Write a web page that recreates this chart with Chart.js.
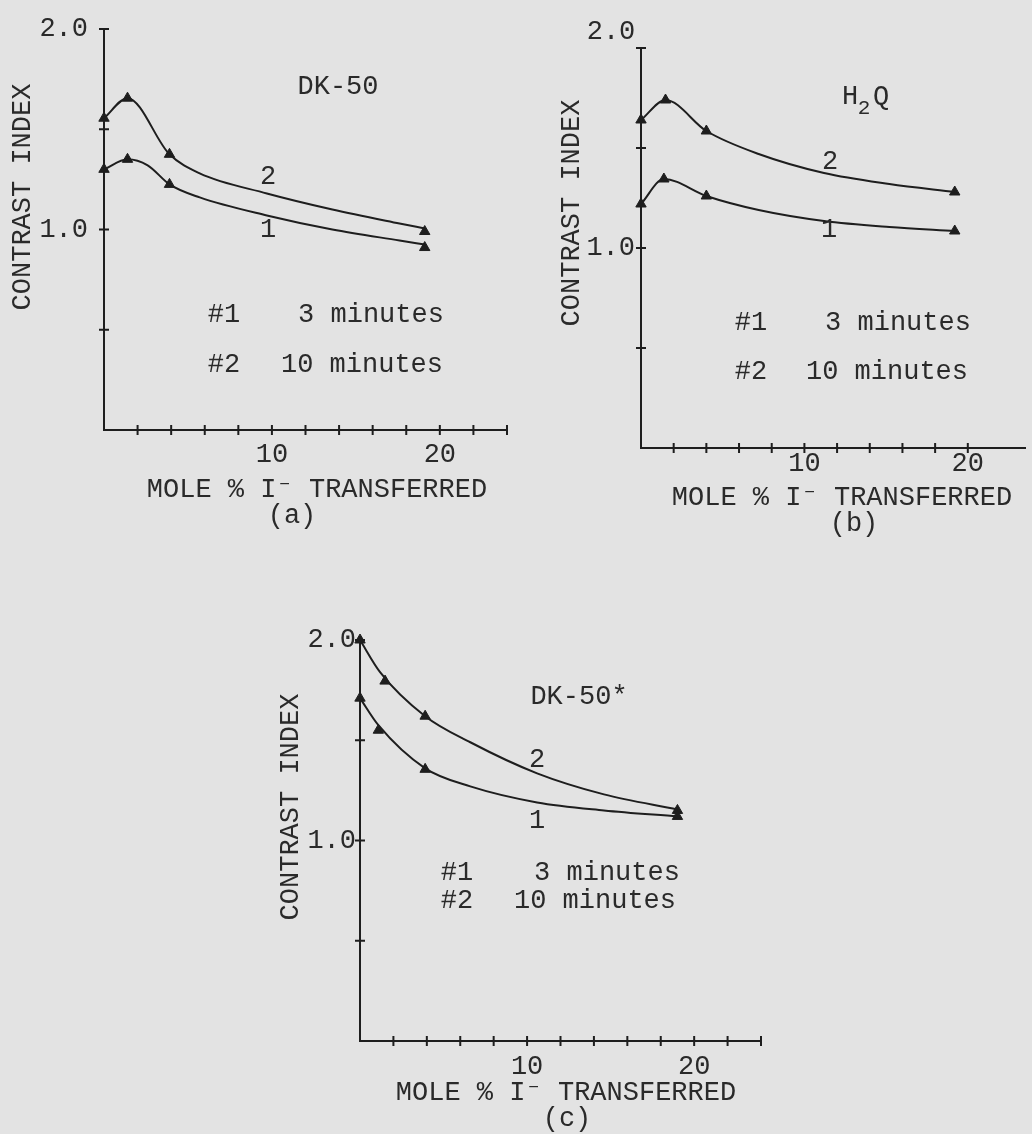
<!DOCTYPE html>
<html>
<head>
<meta charset="utf-8">
<script src="https://cdn.jsdelivr.net/npm/chart.js@4"></script>
<style>
  html, body { margin: 0; padding: 0; }
  body { width: 1032px; height: 1134px; background: #e3e3e3; position: relative; overflow: hidden; }
  canvas { position: absolute; }
</style>
</head>
<body>
<canvas id="pa" width="540" height="545" style="left:0px;top:0px"></canvas>
<canvas id="pb" width="492" height="545" style="left:540px;top:0px"></canvas>
<canvas id="pc" width="520" height="574" style="left:260px;top:560px"></canvas>
<script>
// ---------- data ----------
const xLabeledTicks = [10, 20];
const yLabeledTicks = [1.0, 2.0];

// (a) DK-50
const aMarkX1 = [0, 1.4, 3.9, 19.1];
const aMark1  = [1.30, 1.35, 1.225, 0.91];
const aMarkX2 = [0, 1.4, 3.9, 19.1];
const aMark2  = [1.555, 1.655, 1.375, 0.99];
const aCurveX1 = [0, 1.4, 2.6, 3.9, 5.7, 9.7, 13.6, 17.6, 19.1];
const aCurve1  = [1.30, 1.35, 1.32, 1.225, 1.16, 1.07, 1.0, 0.945, 0.925];
const aCurveX2 = [0, 1.4, 3.9, 5.7, 9.7, 13.6, 17.6, 19.1];
const aCurve2  = [1.555, 1.655, 1.375, 1.28, 1.18, 1.10, 1.03, 1.005];

// (b) H2Q
const bMarkX1 = [0, 1.4, 4.0, 19.2];
const bMark1  = [1.22, 1.345, 1.26, 1.085];
const bMarkX2 = [0, 1.5, 4.0, 19.2];
const bMark2  = [1.64, 1.74, 1.585, 1.28];
const bCurveX1 = [0, 1.4, 4.0, 7.2, 11.2, 15.2, 19.2];
const bCurve1  = [1.22, 1.345, 1.26, 1.19, 1.135, 1.105, 1.085];
const bCurveX2 = [0, 1.5, 4.0, 7.2, 11.2, 15.2, 19.2];
const bCurve2  = [1.64, 1.74, 1.585, 1.47, 1.375, 1.32, 1.28];

// (c) DK-50*
const cMarkX1 = [0, 1.1, 3.9, 19.0];
const cMark1  = [1.71, 1.55, 1.355, 1.12];
const cMarkX2 = [0, 1.5, 3.9, 19.0];
const cMark2  = [2.0, 1.795, 1.62, 1.15];
const cCurveX1 = [0, 1.1, 3.9, 6.6, 10.6, 14.6, 19.0];
const cCurve1  = [1.71, 1.575, 1.36, 1.27, 1.19, 1.15, 1.12];
const cCurveX2 = [0, 1.2, 3.9, 6.6, 10.6, 14.6, 19.0];
const cCurve2  = [2.0, 1.84, 1.62, 1.49, 1.335, 1.23, 1.155];

// ---------- styling ----------
const INK = '#1e1e1e';
const TXT = '#2a2a2a';
const FONT = '"Liberation Mono", "DejaVu Sans Mono", monospace';
const XTITLE = 'MOLE % I\u207B TRANSFERRED';
const YTITLE = 'CONTRAST INDEX';

const pts = (xs, ys) => xs.map((x, i) => ({ x: x, y: ys[i] }));

const decor = {
  id: 'decor',
  afterDraw(chart, args, o) {
    const { ctx, scales: { x, y } } = chart;
    ctx.save();
    ctx.strokeStyle = INK;
    ctx.lineWidth = 2;
    const x0 = x.getPixelForValue(0), y0 = y.getPixelForValue(0);
    ctx.beginPath();
    y.ticks.forEach(t => {
      if (t.value > 0) { const py = y.getPixelForValue(t.value); ctx.moveTo(x0 - 5, py); ctx.lineTo(x0 + 5, py); }
    });
    x.ticks.forEach(t => {
      if (t.value > 0 && t.value % 2 === 0) { const px = x.getPixelForValue(t.value); ctx.moveTo(px, y0 - 5); ctx.lineTo(px, y0 + 5); }
    });
    ctx.stroke();
    ctx.fillStyle = TXT;
    ctx.textBaseline = 'middle';
    ctx.textAlign = 'center';
    o.texts.forEach(t => {
      ctx.save();
      ctx.font = (t.size || 27) + 'px ' + FONT;
      ctx.translate(t.x - o.ox, t.y - o.oy);
      if (t.rot) ctx.rotate(t.rot);
      ctx.fillText(t.s, 0, 0);
      ctx.restore();
    });
    ctx.restore();
  }
};

function panel(id, cfg) {
  const lineDs = (xs, ys) => ({
    type: 'scatter', data: pts(xs, ys), showLine: true, borderColor: INK, borderWidth: 2,
    pointRadius: 0, cubicInterpolationMode: 'monotone', clip: false, fill: false
  });
  const markDs = (xs, ys) => ({
    type: 'scatter', data: pts(xs, ys), showLine: false, pointStyle: 'triangle',
    pointRadius: 6, pointBackgroundColor: INK, pointBorderColor: INK, pointBorderWidth: 1, clip: false
  });
  const yLabs = cfg.yLabels || yLabeledTicks;
  new Chart(document.getElementById(id), {
    type: 'scatter',
    data: {
      datasets: [
        lineDs(cfg.curveX1, cfg.curve1),
        lineDs(cfg.curveX2, cfg.curve2),
        markDs(cfg.markX1, cfg.mark1),
        markDs(cfg.markX2, cfg.mark2)
      ]
    },
    options: {
      responsive: false,
      animation: false,
      devicePixelRatio: 1,
      layout: { padding: { left: 0, top: cfg.padTop, right: cfg.padRight, bottom: 0 } },
      plugins: {
        legend: { display: false },
        tooltip: { enabled: false },
        decor: { texts: cfg.texts, ox: cfg.ox, oy: cfg.oy }
      },
      scales: {
        x: {
          type: 'linear', min: 0, max: cfg.xMax,
          grid: { display: true, drawOnChartArea: false, drawTicks: false },
          border: { display: true, color: INK, width: 2 },
          ticks: {
            stepSize: 2, autoSkip: false, maxRotation: 0, padding: cfg.xTickPad,
            color: TXT, font: { family: FONT, size: 27 },
            callback: v => xLabeledTicks.includes(v) ? String(v) : ''
          },
          afterFit: s => { s.height = cfg.xH; s.paddingLeft = 0; s.paddingRight = 0; }
        },
        y: {
          type: 'linear', min: 0, max: 2,
          grid: { display: true, drawOnChartArea: false, drawTicks: false },
          border: { display: true, color: INK, width: 2 },
          ticks: {
            stepSize: 0.5, autoSkip: false, padding: cfg.yTickPad,
            color: TXT, font: { family: FONT, size: 27 },
            callback: v => yLabs.includes(v) ? v.toFixed(1) : ''
          },
          afterFit: s => { s.width = cfg.yW; s.paddingTop = 0; s.paddingBottom = 0; }
        }
      }
    },
    plugins: [decor]
  });
}

panel('pa', {
  markX1: aMarkX1, mark1: aMark1, markX2: aMarkX2, mark2: aMark2,
  curveX1: aCurveX1, curve1: aCurve1, curveX2: aCurveX2, curve2: aCurve2,
  xMax: 24, padTop: 29, padRight: 33, xH: 115, yW: 104, xTickPad: 9, yTickPad: 16,
  ox: 0, oy: 0,
  texts: [
    { s: 'DK-50', x: 338, y: 87 },
    { s: '2', x: 268, y: 177 },
    { s: '1', x: 268, y: 230 },
    { s: '#1', x: 224, y: 315 },
    { s: '3 minutes', x: 371, y: 315 },
    { s: '#2', x: 224, y: 365 },
    { s: '10 minutes', x: 362, y: 365 },
    { s: XTITLE, x: 317, y: 490 },
    { s: '(a)', x: 292, y: 516 },
    { s: YTITLE, x: 23, y: 197, rot: -Math.PI / 2 }
  ]
});

panel('pb', {
  markX1: bMarkX1, mark1: bMark1, markX2: bMarkX2, mark2: bMark2,
  curveX1: bCurveX1, curve1: bCurve1, curveX2: bCurveX2, curve2: bCurve2,
  xMax: 23.5, padTop: 48, padRight: 1, xH: 97, yW: 101, xTickPad: 0, yTickPad: 6,
  yLabels: [1.0],
  ox: 540, oy: 0,
  texts: [
    { s: '2.0', x: 611, y: 32 },
    { s: 'H', x: 850, y: 97 },
    { s: '2', x: 864, y: 108, size: 21 },
    { s: 'Q', x: 881, y: 97 },
    { s: '2', x: 830, y: 162 },
    { s: '1', x: 829, y: 230 },
    { s: '#1', x: 751, y: 323 },
    { s: '3 minutes', x: 898, y: 323 },
    { s: '#2', x: 751, y: 372 },
    { s: '10 minutes', x: 887, y: 372 },
    { s: XTITLE, x: 842, y: 498 },
    { s: '(b)', x: 854, y: 524 },
    { s: YTITLE, x: 572, y: 213, rot: -Math.PI / 2 }
  ]
});

panel('pc', {
  markX1: cMarkX1, mark1: cMark1, markX2: cMarkX2, mark2: cMark2,
  curveX1: cCurveX1, curve1: cCurve1, curveX2: cCurveX2, curve2: cCurve2,
  xMax: 24, padTop: 80, padRight: 19, xH: 93, yW: 100, xTickPad: 10, yTickPad: 4,
  ox: 260, oy: 560,
  texts: [
    { s: 'DK-50*', x: 579, y: 697 },
    { s: '2', x: 537, y: 760 },
    { s: '1', x: 537, y: 821 },
    { s: '#1', x: 457, y: 873 },
    { s: '3 minutes', x: 607, y: 873 },
    { s: '#2', x: 457, y: 901 },
    { s: '10 minutes', x: 595, y: 901 },
    { s: XTITLE, x: 566, y: 1093 },
    { s: '(c)', x: 567, y: 1119 },
    { s: YTITLE, x: 291, y: 807, rot: -Math.PI / 2 }
  ]
});
</script>
</body>
</html>
